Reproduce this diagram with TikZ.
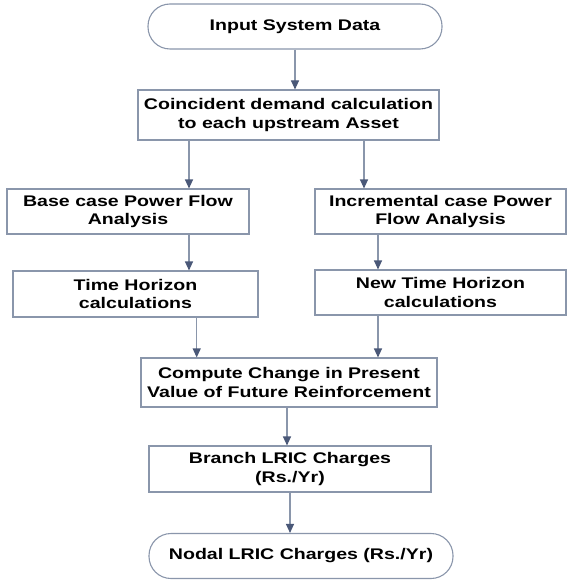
\documentclass[tikz,border=0pt]{standalone}
\usepackage{fontspec}
\newfontfamily\boxfont[FakeStretch=1.27]{Liberation Sans}
\usetikzlibrary{arrows.meta}
\definecolor{edgec}{HTML}{8A96AB}
\definecolor{tipc}{HTML}{4A5878}
\begin{document}
\begin{tikzpicture}[x=1pt,y=-1pt,
  box/.style={draw=edgec, line width=1.1pt, fill=white, align=center,
    font=\boxfont\bfseries\fontsize{15.4}{18.5}\selectfont, inner sep=0pt},
  term/.style={box, rounded corners=22pt},
  arr/.style={draw=edgec, line width=1.1pt, -{Triangle[width=8pt,length=9pt,color=tipc]}}]
\useasboundingbox[fill=white] (0,0) rectangle (567,580);
\node[term, minimum width=294pt, minimum height=45pt] (n1) at (295,26.5) {Input System Data};
\node[box, minimum width=301pt, minimum height=50pt] (n2) at (288.5,115) {Coincident demand calculation\\to each upstream Asset};
\node[box, minimum width=242pt, minimum height=45pt] (n3) at (128,211.5) {Base case Power Flow\\Analysis};
\node[box, minimum width=251pt, minimum height=45pt] (n4) at (440.5,211.5) {Incremental case Power\\Flow Analysis};
\node[box, minimum width=245pt, minimum height=46pt] (n5) at (135.5,294) {Time Horizon\\calculations};
\node[box, minimum width=251pt, minimum height=45pt] (n6) at (440.5,292.5) {New Time Horizon\\calculations};
\node[box, minimum width=296pt, minimum height=49pt] (n7) at (289,382.5) {Compute Change in Present\\Value of Future Reinforcement};
\node[box, minimum width=282pt, minimum height=46pt] (n8) at (290,469) {Branch LRIC Charges\\(Rs./Yr)};
\node[term, minimum width=304pt, minimum height=45pt] (n9) at (301,556) {Nodal LRIC Charges (Rs./Yr)};
\draw[arr] (n1.south) -- (n1.south |- n2.north);
\draw[arr] ([xshift=-99.5pt]n2.south) -- ([xshift=-99.5pt]n2.south |- n3.north);
\draw[arr] ([xshift=75.5pt]n2.south) -- ([xshift=75.5pt]n2.south |- n4.north);
\draw[arr] ([xshift=61pt]n3.south) -- ([xshift=61pt]n3.south |- n5.north);
\draw[arr] ([xshift=-62.5pt]n4.south) -- ([xshift=-62.5pt]n4.south |- n6.north);
\draw[arr] ([xshift=61.2pt]n5.south) -- ([xshift=61.2pt]n5.south |- n7.north);
\draw[arr] ([xshift=-62.5pt]n6.south) -- ([xshift=-62.5pt]n6.south |- n7.north);
\draw[arr] ([xshift=-2pt]n7.south) -- ([xshift=-2pt]n7.south |- n8.north);
\draw[arr] (n8.south) -- (n8.south |- n9.north);
\end{tikzpicture}
\end{document}
